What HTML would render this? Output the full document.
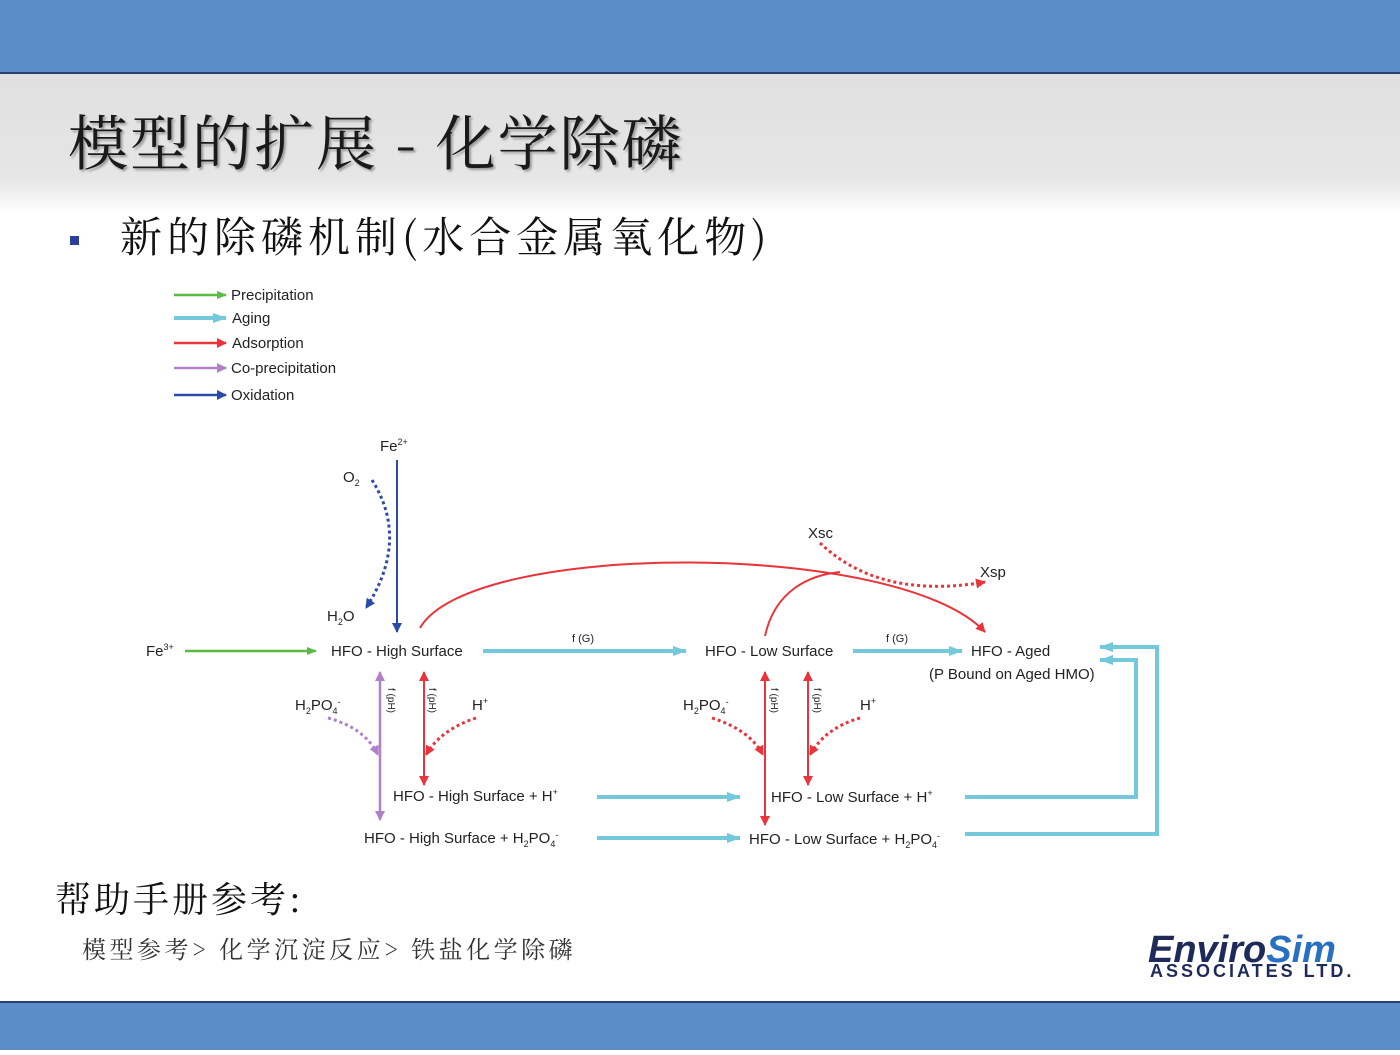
<!DOCTYPE html>
<html><head><meta charset="utf-8"><style>
body{margin:0;width:1400px;height:1050px;overflow:hidden;background:#fff;font-family:"Liberation Sans","Noto Sans CJK SC",sans-serif}
</style></head><body>
<svg width="1400" height="1050" viewBox="0 0 1400 1050" xmlns="http://www.w3.org/2000/svg" font-family="Liberation Sans, Noto Sans CJK SC, sans-serif">
<defs>
<linearGradient id="g" x1="0" y1="0" x2="0" y2="1"><stop offset="0" stop-color="#e0e0e0"/><stop offset="0.75" stop-color="#e6e6e6"/><stop offset="1" stop-color="#fff"/></linearGradient>
<marker id="mg" markerWidth="10" markerHeight="8" refX="9" refY="4" orient="auto" markerUnits="userSpaceOnUse"><path d="M0,0L10,4L0,8z" fill="#5cb944"/></marker>
<marker id="mc" markerWidth="14" markerHeight="10" refX="13" refY="5" orient="auto" markerUnits="userSpaceOnUse"><path d="M0,0L14,5L0,10z" fill="#74c8dc"/></marker>
<marker id="mr" markerWidth="10" markerHeight="10" refX="9" refY="5" orient="auto-start-reverse" markerUnits="userSpaceOnUse"><path d="M0,0L10,5L0,10z" fill="#e8343a"/></marker>
<marker id="mp" markerWidth="10" markerHeight="10" refX="9" refY="5" orient="auto-start-reverse" markerUnits="userSpaceOnUse"><path d="M0,0L10,5L0,10z" fill="#b080c8"/></marker>
<marker id="mb" markerWidth="10" markerHeight="10" refX="9" refY="5" orient="auto" markerUnits="userSpaceOnUse"><path d="M0,0L10,5L0,10z" fill="#2a4aa8"/></marker>
</defs>
<rect x="0" y="0" width="1400" height="72" fill="#5b8dc8"/>
<rect x="0" y="72" width="1400" height="2" fill="#2b3e78"/>
<rect x="0" y="74" width="1400" height="140" fill="url(#g)"/>
<rect x="0" y="1001" width="1400" height="2" fill="#2b3e78"/>
<rect x="0" y="1003" width="1400" height="47" fill="#5b8dc8"/>
<text x="68" y="165" font-size="60" font-family="Noto Serif CJK SC, serif" fill="#1a1a1a" letter-spacing="2" style="text-shadow:2px 2px 2px #999">模型的扩展 - 化学除磷</text>
<rect x="70" y="236" width="9" height="9" fill="#2b3e98"/>
<text x="120" y="252" font-size="42" font-family="Noto Serif CJK SC, serif" fill="#111" letter-spacing="5">新的除磷机制(水合金属氧化物)</text>
<text x="55" y="912" font-size="36" font-family="Noto Serif CJK SC, serif" fill="#111" letter-spacing="3">帮助手册参考:</text>
<text x="82" y="958" font-size="24" font-family="Noto Serif CJK SC, serif" fill="#333" letter-spacing="3.5">模型参考> 化学沉淀反应> 铁盐化学除磷</text>
<text x="1148" y="962" font-size="38" font-weight="bold" font-style="italic" fill="#1e2a5a">Enviro<tspan fill="#2a70c0">Sim</tspan></text>
<text x="1150" y="977" font-size="18" font-weight="bold" fill="#1e2a5a" letter-spacing="3">ASSOCIATES LTD.</text>
<g font-size="15" fill="#222">
<line x1="174" y1="295" x2="226" y2="295" stroke="#5cb944" stroke-width="2.5" marker-end="url(#mg)"/><text x="231" y="300">Precipitation</text>
<line x1="174" y1="318" x2="226" y2="318" stroke="#74c8dc" stroke-width="4" marker-end="url(#mc)"/><text x="232" y="323">Aging</text>
<line x1="174" y1="343" x2="226" y2="343" stroke="#e8343a" stroke-width="2.5" marker-end="url(#mr)"/><text x="232" y="348">Adsorption</text>
<line x1="174" y1="368" x2="226" y2="368" stroke="#b080c8" stroke-width="2.5" marker-end="url(#mp)"/><text x="231" y="373">Co-precipitation</text>
<line x1="174" y1="395" x2="226" y2="395" stroke="#2a4aa8" stroke-width="2.5" marker-end="url(#mb)"/><text x="231" y="400">Oxidation</text>
</g>
<g font-size="15" fill="#222">
<text x="380" y="451">Fe<tspan font-size="9" dy="-6">2+</tspan></text>
<text x="343" y="482">O<tspan font-size="9" dy="4">2</tspan></text>
<text x="327" y="621">H<tspan font-size="9" dy="4">2</tspan><tspan dy="-4">O</tspan></text>
<text x="146" y="656">Fe<tspan font-size="9" dy="-6">3+</tspan></text>
<text x="331" y="656">HFO - High Surface</text>
<text x="705" y="656">HFO - Low Surface</text>
<text x="971" y="656">HFO - Aged</text>
<text x="929" y="679">(P Bound on Aged HMO)</text>
<text x="808" y="538">Xsc</text>
<text x="980" y="577">Xsp</text>
<text x="572" y="642" font-size="11">f (G)</text>
<text x="886" y="642" font-size="11">f (G)</text>
<text x="295" y="710">H<tspan font-size="9" dy="4">2</tspan><tspan dy="-4">PO</tspan><tspan font-size="9" dy="4">4</tspan><tspan font-size="9" dy="-9">-</tspan></text>
<text x="683" y="710">H<tspan font-size="9" dy="4">2</tspan><tspan dy="-4">PO</tspan><tspan font-size="9" dy="4">4</tspan><tspan font-size="9" dy="-9">-</tspan></text>
<text x="472" y="710">H<tspan font-size="9" dy="-6">+</tspan></text>
<text x="860" y="710">H<tspan font-size="9" dy="-6">+</tspan></text>
<text x="393" y="801">HFO - High Surface + H<tspan font-size="9" dy="-6">+</tspan></text>
<text x="771" y="802">HFO - Low Surface + H<tspan font-size="9" dy="-6">+</tspan></text>
<text x="364" y="843">HFO - High Surface + H<tspan font-size="9" dy="4">2</tspan><tspan dy="-4">PO</tspan><tspan font-size="9" dy="4">4</tspan><tspan font-size="9" dy="-9">-</tspan></text>
<text x="749" y="844">HFO - Low Surface + H<tspan font-size="9" dy="4">2</tspan><tspan dy="-4">PO</tspan><tspan font-size="9" dy="4">4</tspan><tspan font-size="9" dy="-9">-</tspan></text>
<g font-size="10"><text transform="translate(388,688) rotate(90)">f (pH)</text><text transform="translate(429,688) rotate(90)">f (pH)</text><text transform="translate(771,688) rotate(90)">f (pH)</text><text transform="translate(814,688) rotate(90)">f (pH)</text></g>
</g>
<line x1="185" y1="651" x2="316" y2="651" stroke="#5cb944" stroke-width="2.5" marker-end="url(#mg)"/>
<line x1="397" y1="460" x2="397" y2="632" stroke="#2a4aa8" stroke-width="2" marker-end="url(#mb)"/>
<path d="M372,480 Q410,540 366,608" fill="none" stroke="#2a4aa8" stroke-width="3" stroke-dasharray="3,3" marker-end="url(#mb)"/>
<g stroke="#74c8dc" stroke-width="4" fill="none">
<line x1="483" y1="651" x2="686" y2="651" marker-end="url(#mc)"/>
<line x1="853" y1="651" x2="962" y2="651" marker-end="url(#mc)"/>
<line x1="597" y1="797" x2="740" y2="797" marker-end="url(#mc)"/>
<line x1="597" y1="838" x2="740" y2="838" marker-end="url(#mc)"/>
<polyline points="965,797 1136,797 1136,660 1100,660" marker-end="url(#mc)"/>
<polyline points="965,834 1157,834 1157,647 1100,647" marker-end="url(#mc)"/>
</g>
<g stroke="#e8343a" stroke-width="2" fill="none">
<path d="M420,628 C470,540 900,540 985,632" marker-end="url(#mr)"/>
<path d="M765,636 C775,590 810,575 840,572"/>
<line x1="424" y1="672" x2="424" y2="785" marker-start="url(#mr)" marker-end="url(#mr)"/>
<line x1="765" y1="672" x2="765" y2="825" marker-start="url(#mr)" marker-end="url(#mr)"/>
<line x1="808" y1="672" x2="808" y2="785" marker-start="url(#mr)" marker-end="url(#mr)"/>
<g stroke-width="3" stroke-dasharray="3,3">
<path d="M820,543 Q880,600 985,582" marker-end="url(#mr)"/>
<path d="M476,718 Q440,730 426,755" marker-end="url(#mr)"/>
<path d="M860,718 Q825,728 810,755" marker-end="url(#mr)"/>
<path d="M712,718 Q750,730 763,755" marker-end="url(#mr)"/>
</g></g>
<line x1="380" y1="672" x2="380" y2="820" stroke="#b080c8" stroke-width="2.5" marker-start="url(#mp)" marker-end="url(#mp)"/>
<path d="M328,718 Q365,728 378,755" fill="none" stroke="#b080c8" stroke-width="3" stroke-dasharray="3,3" marker-end="url(#mp)"/>
</svg>
</body></html>
